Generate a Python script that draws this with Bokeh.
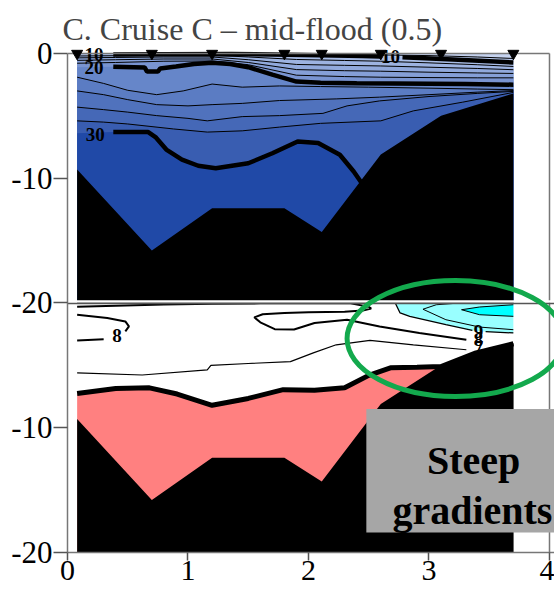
import numpy as np
from bokeh.plotting import figure
from bokeh.models import Range1d, FixedTicker
from bokeh.embed import file_html
from bokeh.resources import INLINE
from bokeh.core.properties import value

nan = float("nan")

# ---------------- data ----------------
title_text = "C. Cruise C \u2013 mid-flood (0.5)"
x_ticks = [0, 1, 2, 3, 4]
y_tick_values = [0, -10, -20, -30, -40]
y_tick_labels = ["0", "-10", "-20", "-10", "-20"]

# CTD stations and bottom depth (m)
station_x = [0.08, 0.70, 1.20, 1.80, 2.11, 2.60, 3.10, 3.70]
bottom_depth = [9.3, 15.8, 12.4, 12.4, 14.3, 8.1, 5.0, 3.2]

# --- salinity isolines (upper panel); depth in m, nan = gap for label ---
sal08_x = [0.08, 1.20, 1.50, 2.00, 2.50, 3.00, 3.40, 3.70]
sal08_d = [0.00, 0.00, 0.02, 0.05, 0.10, 0.17, 0.28, 0.40]
sal10_x = [0.08, nan, 0.38, 0.80, 1.36, 1.70, 2.10, 2.45, 2.60, nan, 2.78, 3.20, 3.70]
sal10_d = [0.10, nan, 0.08, 0.06, 0.05, 0.08, 0.14, 0.20, 0.24, nan, 0.30, 0.48, 0.72]
mid_x = [0.08, 0.40, 0.80, 1.20, 1.50, 1.90, 2.30, 2.60, 3.00, 3.40, 3.70]
sal12_d = [0.20, 0.18, 0.15, 0.14, 0.28, 0.48, 0.56, 0.62, 0.75, 0.90, 1.04]
sal14_d = [0.35, 0.32, 0.28, 0.28, 0.50, 0.88, 0.95, 1.00, 1.10, 1.20, 1.30]
sal16_d = [0.55, 0.50, 0.44, 0.44, 0.72, 1.29, 1.38, 1.42, 1.50, 1.56, 1.60]
sal18_d = [0.78, 0.72, 0.62, 0.60, 0.90, 1.74, 1.85, 1.90, 1.93, 1.95, 1.95]
sal20_x = [0.08, nan, 0.38, 0.55, 0.64, 0.66, 0.75, 0.77, 0.90, 1.05, 1.20, 1.35,
           1.50, 1.70, 1.90, 2.10, 2.40, 2.70, 3.00, 3.30, 3.70]
sal20_d = [1.10, nan, 1.07, 1.10, 1.12, 1.45, 1.45, 1.20, 1.05, 0.85, 0.75, 0.85,
           1.10, 1.70, 2.25, 2.35, 2.38, 2.40, 2.42, 2.45, 2.50]
sal22_x = [0.08, 0.30, 0.50, 0.74, 0.96, 1.20, 1.45, 1.76, 2.10, 2.50, 3.00, 3.40, 3.70]
sal22_d = [1.90, 2.40, 2.95, 3.30, 3.00, 2.45, 2.70, 2.60, 2.65, 2.70, 2.78, 2.85, 2.90]
sal24_x = [0.08, 0.30, 0.50, 0.74, 1.00, 1.20, 1.45, 1.76, 2.23, 2.59, 3.00, 3.40, 3.70]
sal24_d = [3.00, 3.30, 3.70, 4.10, 4.20, 4.10, 4.00, 3.77, 3.64, 3.50, 3.30, 3.10, 2.97]
sal26_x = [0.08, 0.30, 0.50, 0.74, 1.00, 1.16, 1.45, 1.76, 2.12, 2.32, 2.59, 3.00, 3.40, 3.70]
sal26_d = [4.30, 4.50, 4.70, 4.98, 5.20, 5.40, 5.06, 4.98, 4.80, 4.20, 3.80, 3.45, 3.20, 3.04]
sal28_x = [0.08, 0.30, 0.50, 0.88, 1.16, 1.45, 1.76, 2.10, 2.60, 2.87, 3.28, 3.70]
sal28_d = [5.40, 5.50, 5.65, 6.05, 6.30, 6.20, 5.90, 5.60, 5.40, 4.60, 3.90, 3.12]
sal30_x = [0.08, nan, 0.38, 0.67, 0.73, 0.82, 0.95, 1.085, 1.23, 1.50, 1.70, 1.91, 2.08, 2.26, 2.375, 2.45]
sal30_d = [6.40, nan, 6.30, 6.30, 6.70, 7.70, 8.50, 9.00, 9.20, 8.80, 8.00, 7.05, 7.18, 8.12, 9.46, 10.5]

sal_label_text = ["10", "20", "30", "10"]
sal_label_x = [0.22, 0.22, 0.23, 2.68]
sal_label_d = [0.05, 1.15, 6.50, 0.25]

# --- temperature isolines (lower panel) ---
tem8a_x = [0.08, 0.40, 0.80, 1.20, 1.60, 2.00, 2.35, 2.50, 2.52, 2.45, 2.30, 2.00, 1.80,
           1.62, 1.55, 1.60, 1.72, 1.88, 2.05, 2.32, 2.59, 2.92, 3.31]
tem8a_d = [0.30, 0.22, 0.12, 0.06, 0.03, 0.02, 0.03, 0.30, 0.45, 0.60, 0.70, 0.75, 0.80,
           0.90, 1.15, 1.55, 2.10, 2.12, 1.60, 1.34, 1.88, 2.40, 2.95]
tem8b_x = [0.08, 0.33, 0.48, 0.51, 0.48, nan, 0.30, 0.08]
tem8b_d = [0.94, 1.20, 1.48, 1.88, 2.28, nan, 2.90, 3.00]
tem7_x = [0.08, 0.62, 1.16, 1.19, 1.50, 1.85, 2.04, 2.23, 2.51, 2.87, 3.31]
tem7_d = [5.60, 5.77, 5.36, 5.00, 4.85, 4.70, 4.00, 3.35, 3.00, 3.35, 3.75]
tem6_x = [0.08, 0.40, 0.68, 0.91, 1.20, 1.50, 1.79, 2.05, 2.30, 2.50, 2.68, 2.90, 3.10, 3.39, 3.70]
tem6_d = [7.25, 6.85, 6.80, 7.30, 8.20, 7.65, 6.95, 7.00, 6.80, 5.80, 5.20, 5.15, 5.10, 4.00, 3.27]
tem6_pink_end = 3.10
tem9_x = [2.72, 2.76, 2.84, 3.14, 3.36, nan, 3.47, 3.70]
tem9_d = [0.00, 0.80, 1.07, 1.74, 2.20, nan, 2.30, 2.40]
tem95_x = [3.70, 3.42, 3.14, 2.95, 3.06, 3.20, 3.70]
tem95_d = [2.14, 1.93, 1.34, 0.50, 0.14, 0.04, 0.02]
tem10_x = [3.70, 3.42, 3.27, 3.42, 3.70]
tem10_d = [0.14, 0.32, 0.54, 0.94, 1.07]

tem_label_text = ["8", "9", "8", "7"]
tem_label_x = [0.41, 3.41, 3.41, 3.41]
tem_label_d = [2.60, 2.30, 2.90, 3.55]

# ---------------- styling ----------------
PANEL = 20.0
TOP, BOT = 0.0, -PANEL
FONT = "Liberation Serif"
sal_surface_color = "#c6d3ef"
sal_lines = [  # x, depth, line width, colour of water below the line
    (sal08_x, sal08_d, 1.0, "#b6c7ea"),
    (sal10_x, sal10_d, 4.5, "#a9bde6"),
    (mid_x, sal12_d, 1.0, "#9db3e1"),
    (mid_x, sal14_d, 1.0, "#91a9dc"),
    (mid_x, sal16_d, 1.0, "#859fd7"),
    (mid_x, sal18_d, 1.0, "#7994d1"),
    (sal20_x, sal20_d, 4.5, "#6686c9"),
    (sal22_x, sal22_d, 1.0, "#5b7cc3"),
    (sal24_x, sal24_d, 1.0, "#5072bd"),
    (sal26_x, sal26_d, 1.0, "#4568b7"),
    (sal28_x, sal28_d, 1.0, "#395db1"),
    (sal30_x, sal30_d, 4.5, "#2049a7"),
]

p = figure(width=554, height=598,
           x_range=Range1d(0, 4.0415), y_range=Range1d(-2 * PANEL, 0.48),
           output_backend="svg", toolbar_location=None,
           min_border_left=67, min_border_right=0, min_border_top=47, min_border_bottom=46,
           title=title_text)
p.outline_line_color = None
p.grid.visible = False
p.title.text_font = FONT
p.title.text_font_size = "32px"
p.title.text_font_style = "normal"
p.title.align = "left"
p.title.offset = -5
p.title.standoff = 2


def finite(xs, ds):
    xs = np.asarray(xs, float)
    ds = np.asarray(ds, float)
    m = np.isfinite(xs) & np.isfinite(ds)
    return xs[m], ds[m]


def fill_below(xs, ds, off, color):
    fx, fd = finite(xs, ds)
    px = list(fx) + [fx[-1], fx[0]]
    py = list(off - fd) + [off - PANEL, off - PANEL]
    p.patch(px, py, fill_color=color, line_color=None)


def fill_closed(xs, ds, off, color):
    fx, fd = finite(xs, ds)
    p.patch(list(fx), list(off - fd), fill_color=color, line_color=None)


def stroke(xs, ds, off, width):
    xs = np.asarray(xs, float)
    ds = np.asarray(ds, float)
    on_surf = ds <= 0
    nxt = np.append(on_surf[1:], True)
    ys = np.where(on_surf & nxt, nan, off - ds)
    p.line(xs, ys, line_color="black", line_width=width)


# ---- upper panel: salinity fills ----
fill_below([station_x[0], station_x[-1]], [0, 0], TOP, sal_surface_color)
for xs, ds, w, c in sal_lines:
    fill_below(xs, ds, TOP, c)

# ---- lower panel: temperature fills ----
fx, fd = finite(tem9_x, tem9_d)
fill_closed(list(fx) + [fx[-1]], list(fd) + [0.0], BOT, "#99ffff")
fill_closed(tem10_x, tem10_d, BOT, "#00ffff")
t6x = np.asarray(tem6_x)
t6d = np.asarray(tem6_d)
m = t6x <= tem6_pink_end
fill_below(t6x[m], t6d[m], BOT, "#ff8080")
m = t6x >= tem6_pink_end
fill_below(t6x[m], t6d[m], BOT, "black")

# ---- isoline strokes ----
for xs, ds, w, c in sal_lines:
    stroke(xs, ds, TOP, w)
stroke(tem8a_x, tem8a_d, BOT, 2.0)
stroke(tem8b_x, tem8b_d, BOT, 2.0)
stroke(tem7_x, tem7_d, BOT, 1.2)
stroke(tem6_x, tem6_d, BOT, 5.0)
stroke(tem9_x, tem9_d, BOT, 1.3)
stroke(tem95_x, tem95_d, BOT, 1.0)
stroke(tem10_x, tem10_d, BOT, 1.0)

# ---- bottom topography (both panels) ----
for off in (TOP, BOT):
    fill_below(station_x, bottom_depth, off, "black")

# ---- contour labels ----
p.text(x=sal_label_x, y=[TOP - d for d in sal_label_d], text=sal_label_text,
       text_font=value(FONT), text_font_style="bold", text_font_size="19px",
       text_align="center", text_baseline="middle", text_color="black")
p.text(x=tem_label_x, y=[BOT - d for d in tem_label_d], text=tem_label_text,
       text_font=value(FONT), text_font_style="bold", text_font_size="19px",
       text_align="center", text_baseline="middle", text_color="black")

# ---- frame lines ----
XMAX = x_ticks[-1]
p.segment(x0=[0, XMAX], y0=[TOP, TOP], x1=[XMAX, XMAX], y1=[TOP, BOT - PANEL],
          line_color="#777777", line_width=1.5)
p.segment(x0=[0], y0=[BOT + 0.12], x1=[4.0415], y1=[BOT + 0.12], line_color="white", line_width=2.5)
p.segment(x0=[0], y0=[BOT - 0.05], x1=[4.0415], y1=[BOT - 0.05], line_color="#555555", line_width=1.5)

# ---- station markers ----
p.scatter(station_x, [TOP] * len(station_x), marker="inverted_triangle", size=11,
          fill_color="black", line_color="black")

# ---- annotation: ellipse and box ----
p.ellipse(x=[3.22], y=[-22.85], width=1.8, height=9.3, fill_color=None,
          line_color="#13a94d", line_width=5)
p.quad(left=[2.48], right=[4.3], top=[-28.5], bottom=[-38.4], fill_color="#a6a6a6", line_color=None)
p.text(x=[3.37, 3.36], y=[-32.6, -36.6], text=["Steep", "gradients"],
       text_font=value(FONT), text_font_style="bold", text_font_size="40px",
       text_align="center", text_baseline="alphabetic", text_color="black")

# ---- axes ----
p.xaxis.ticker = FixedTicker(ticks=x_ticks)
p.yaxis.ticker = FixedTicker(ticks=y_tick_values)
p.yaxis.major_label_overrides = {float(v): t for v, t in zip(y_tick_values, y_tick_labels)}
p.yaxis.bounds = (-2 * PANEL, 0)
for ax in (p.xaxis[0], p.yaxis[0]):
    ax.minor_tick_line_color = None
    ax.major_tick_in = 0
    ax.axis_line_color = "#777777"
    ax.axis_line_width = 1.5
    ax.major_tick_line_color = "#555555"
    ax.major_tick_line_width = 1.5
    ax.major_label_text_font = FONT
    ax.major_label_text_font_size = "31px"
    ax.major_label_text_color = "black"
    ax.major_label_standoff = 1
p.xaxis.major_label_text_font_size = "30px"
p.xaxis.major_tick_out = 8
p.xaxis.major_label_standoff = 0
p.yaxis.major_tick_out = 14

open("out.html", "w").write(file_html(p, INLINE))
